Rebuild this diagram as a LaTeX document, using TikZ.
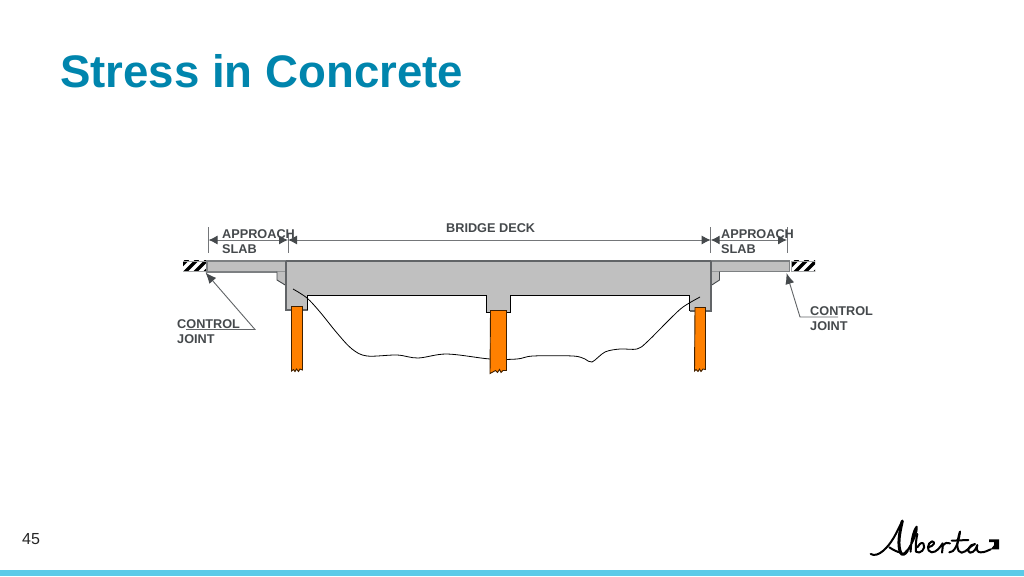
\documentclass[tikz,border=0pt]{standalone}
\usepackage{fontspec}
\setmainfont{Liberation Sans}
\usetikzlibrary{arrows.meta}
\definecolor{titleblue}{HTML}{0085AD}
\definecolor{barblue}{HTML}{5BCBE8}
\definecolor{concrete}{HTML}{C0C0C0}
\definecolor{pile}{HTML}{FF8000}
\definecolor{ink}{HTML}{45494C}
\tikzset{
  concreteshape/.style={fill=concrete,draw=black,line width=.7pt,line join=miter},
  pileshape/.style={fill=pile,draw=black!75!pile,line width=.9pt},
  label/.style={font=\bfseries\fontsize{12.7}{14}\selectfont,text=ink,inner sep=0pt,anchor=base west},
  dim/.style={draw=ink!75,line width=1pt},
  dimarrow/.style={dim,{Latex[length=9pt,width=9pt,color=ink]}-{Latex[length=9pt,width=9pt,color=ink]}},
  leader/.style={draw=ink!85,line width=.9pt,-{Latex[length=11pt,width=9pt,color=ink]}},
  logo/.style={draw=black,line cap=round,line join=round,line width=2pt},
}
\begin{document}
\begin{tikzpicture}[x=1pt,y=-1pt]
\useasboundingbox (0,0) rectangle (1024,576);
\fill[white] (0,0) rectangle (1024,576);
\fill[barblue] (0,570) rectangle (1024,576);
\node[inner sep=0pt,anchor=base west,text=titleblue,font=\bfseries\fontsize{45.6}{50}\selectfont] (title) at (60,87) {Stress in Concrete};
\node[inner sep=0pt,anchor=base west,text=black!85,font=\fontsize{16}{18}\selectfont] (pagenum) at (22,544) {45};

% hatched ends
\begin{scope}
\clip (183,260.5) rectangle (206,271.5);
\fill[white] (183,260) rectangle (206,272);
\foreach \x in {174,184,194,204}
  \draw[black,line width=3.4pt] (\x,273) -- (\x+14,259);
\end{scope}
\draw[ink!50,line width=.6pt] (183,261)--(206,261) (183,271.5)--(206,271.5) (206,261)--(206,271.5);
\begin{scope}
\clip (791.5,260.5) rectangle (815,271.5);
\fill[white] (791,260) rectangle (815,272);
\foreach \x in {784,794,804,814}
  \draw[black,line width=3.4pt] (\x,273) -- (\x+14,259);
\end{scope}
\draw[ink!50,line width=.6pt] (791.5,261)--(815,261) (791.5,271.5)--(815,271.5) (791.5,261)--(791.5,271.5);

% approach slabs
\fill[concrete] (207,261) rectangle (286,272);
\draw[ink!70,line width=1.1pt] (286,261)--(207,261)--(207,272)--(286,272);
\fill[concrete] (711,261) rectangle (789.5,271.5);
\draw[ink!70,line width=1.1pt] (711,261)--(789.5,261)--(789.5,271.5)--(711,271.5);
% corbels
\path[fill=concrete] (277,271.5)--(277,280)--(286,285.5)--(286,271.5)--cycle;
\draw[ink,line width=.9pt] (277,271.5)--(277,280)--(286,285.5);
\path[fill=concrete] (719.5,271.5)--(719.5,280)--(711,285.5)--(711,271.5)--cycle;
\draw[ink,line width=.9pt] (719.5,271.5)--(719.5,280)--(711,285.5);

% deck
\fill[concrete] (286,261)--(711,261)--(711,311)--(689.5,311)--(689.5,295.5)--(510,295.5)--(510,312)--(486.7,312)--(486.7,295.5)--(307.5,295.5)--(307.5,310)--(286,310)--cycle;
\draw[ink!85,line width=1.2pt] (286,261)--(711,261);
\draw[ink!85,line width=1.2pt] (286,261)--(286,310)--(307.5,310);
\draw[ink!85,line width=1.2pt] (711,261)--(711,311)--(689.5,311);
\draw[black,line width=1pt] (307.5,310)--(307.5,295.5)--(486.7,295.5)--(486.7,312)--(510,312)--(510,295.5)--(689.5,295.5)--(689.5,311);

% ground
\draw[black,line width=.8pt] plot[smooth,tension=.55] coordinates {(293,289) (307,298) (320,312) (337,333) (352,349) (367,356) (397,355) (418,358) (447,354) (490,359) (517,359) (533,356) (573,356) (585,359) (592,362) (605,352) (620,349) (637,349) (647,342) (670,319) (683,307) (700,297)};

% piles
\draw[pileshape] (291.5,306.5)--(302.5,306.5)--(302.5,370)--(300,369)--(298.5,371.5)--(296.5,369)--(295,371.5)--(293.5,369.5)--(291.5,371)--cycle;
\draw[pileshape] (490.5,310.5)--(506.5,310.5)--(506.5,370.5)--(503,370.5)--(501,372.5)--(499.5,369.5)--(497.5,372.5)--(495.5,370.5)--(490,373.5)--cycle;
\draw[pileshape] (695,307.5)--(705.5,307.5)--(705.5,369.5)--(703,369)--(701,371.5)--(699.5,369)--(698,371.5)--(696,369.5)--(694.5,371)--cycle;

% dimensions
\coordinate (la) at (208.5,240); \coordinate (lb) at (288,240);
\coordinate (ra) at (710.7,240); \coordinate (rb) at (787,240);
\draw[dim] (208.5,227)--(208.5,253) (288,233)--(288,253) (710.7,227)--(710.7,253) (787,227)--(787,253);
\draw[dimarrow] (la)--(lb);
\draw[dimarrow] (lb)--(ra);
\draw[dimarrow] (ra)--(rb);

\node[label] (a1) at (222,238) {APPROACH};
\node[label] (a2) at (222,253) {SLAB};
\node[label] (b1) at (446,232) {BRIDGE DECK};
\node[label] (c1) at (721,238) {APPROACH};
\node[label] (c2) at (721,253) {SLAB};
\node[label] (d1) at (177,328) {CONTROL};
\node[label] (d2) at (177,343) {JOINT};
\node[label] (e1) at (810,315) {CONTROL};
\node[label] (e2) at (810,330) {JOINT};

% leaders
\coordinate (lj0) at (186,329.5); \coordinate (lj1) at (255,329.5); \coordinate (lj2) at (205.5,272.5);
\draw[leader] (lj0)--(lj1)--(lj2);
\coordinate (rj0) at (838,317); \coordinate (rj1) at (800,317); \coordinate (rj2) at (786.5,273);
\draw[leader] (rj0)--(rj1)--(rj2);

% logo (signature)
\begin{scope}[shift={(860,510)},x=0.3333pt,y=-0.3333pt]
\draw[logo] (32,132) .. controls (55,145) and (85,110) .. (100,85) .. controls (112,65) and (120,45) .. (127,33);
\draw[logo,line width=3pt] (127,33) .. controls (118,70) and (112,105) .. (122,128) .. controls (126,138) and (136,132) .. (142,122);
\draw[logo] (88,112) .. controls (100,120) and (110,125) .. (122,128);
\draw[logo] (142,122) .. controls (160,95) and (172,65) .. (170,50) .. controls (160,60) and (152,100) .. (152,125);
\draw[logo] (172,72) .. controls (168,90) and (166,110) .. (168,125) .. controls (180,135) and (200,115) .. (190,100) .. controls (182,96) and (176,105) .. (172,112);
\draw[logo] (205,112) .. controls (222,108) and (228,95) .. (216,94) .. controls (202,98) and (198,125) .. (215,127) .. controls (230,127) and (240,112) .. (248,100) .. controls (250,110) and (246,118) .. (246,128);
\draw[logo] (248,108) .. controls (255,98) and (262,96) .. (270,100);
\draw[logo] (268,127) .. controls (282,128) and (295,105) .. (300,65);
\draw[logo] (300,65) .. controls (288,100) and (290,128) .. (305,128) .. controls (320,126) and (330,108) .. (345,102) .. controls (328,102) and (318,125) .. (330,128) .. controls (343,128) and (348,115) .. (352,105) .. controls (348,118) and (352,128) .. (362,127) .. controls (375,127) and (382,122) .. (392,118);
\draw[logo] (275,92) -- (325,90);
\fill[black] (387,88)--(417,88)--(417,118)--(392,118)--(402,106)--(402,96)--(387,96)--cycle;
\end{scope}
\end{tikzpicture}
\end{document}
